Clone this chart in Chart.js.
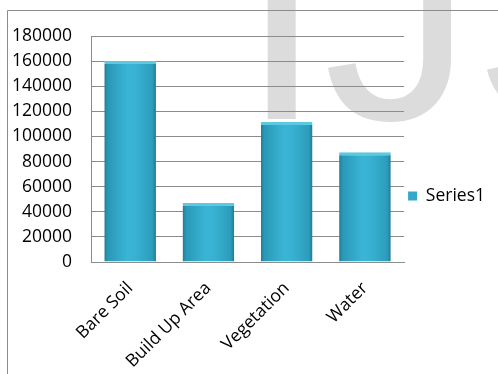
<!DOCTYPE html>
<html>
<head>
<meta charset="utf-8">
<script src="https://cdn.jsdelivr.net/npm/chart.js@4/dist/chart.umd.min.js"></script>
<style>
  html, body { margin: 0; padding: 0; background: #ffffff; }
  #wrap { position: relative; width: 498px; height: 374px; }
</style>
</head>
<body>
<div id="wrap"><canvas id="c" width="498" height="374"></canvas></div>
<script>
const categories = ['Bare Soil', 'Build Up Area', 'Vegetation', 'Water'];
const series1 = [160000, 47000, 111500, 87500];
const seriesName = 'Series1';
const yMin = 0;
const yMax = 180000;
const yStep = 20000;

const FONT = '"Open Sans", "Liberation Sans", sans-serif';

function barFill(ctx) {
  const chart = ctx.chart;
  const xs = chart.scales && chart.scales.x;
  if (!xs || ctx.dataIndex === undefined || !isFinite(xs.width) || xs.width <= 0) return '#35aacb';
  const cx = xs.getPixelForValue(ctx.dataIndex);
  const w = (xs.width / categories.length) * 0.66;
  const g = chart.ctx.createLinearGradient(cx - w / 2, 0, cx + w / 2, 0);
  g.addColorStop(0, '#1f7d98');
  g.addColorStop(0.07, '#2b98b7');
  g.addColorStop(0.45, '#3ab5d5');
  g.addColorStop(0.6, '#38b2d2');
  g.addColorStop(0.93, '#2d9cbb');
  g.addColorStop(1, '#1f7a94');
  return g;
}

const frame = {
  id: 'frame',
  afterDraw(chart) {
    const c = chart.ctx;
    c.save();
    c.strokeStyle = '#8c8c8c';
    c.lineWidth = 1;
    c.beginPath();
    c.moveTo(7.5, 374);
    c.lineTo(7.5, 10.5);
    c.lineTo(498, 10.5);
    c.stroke();
    // faint background watermark, painted behind everything already drawn
    c.globalCompositeOperation = 'destination-over';
    c.font = '300px "Liberation Sans", sans-serif';
    c.textBaseline = 'alphabetic';
    c.textAlign = 'left';
    c.fillStyle = '#dcdcdc';
    c.fillText('IJS', 240, 119);
    c.restore();
  }
};

new Chart(document.getElementById('c'), {
  type: 'bar',
  data: {
    labels: categories,
    datasets: [{
      label: seriesName,
      data: series1,
      backgroundColor: barFill,
      borderColor: '#5cc9e3',
      borderWidth: { top: 3, left: 0, right: 0, bottom: 0 },
      borderSkipped: false,
      barPercentage: 0.66,
      categoryPercentage: 1.0
    }]
  },
  options: {
    responsive: false,
    animation: false,
    devicePixelRatio: 1,
    layout: { padding: { left: 7, top: 18, right: 3, bottom: 0 } },
    plugins: {
      title: {
        display: true,
        text: ' ',
        font: { size: 10, lineHeight: 1 },
        padding: { top: 8, bottom: 0 }
      },
      tooltip: { enabled: false },
      legend: {
        display: true,
        position: 'right',
        labels: {
          boxWidth: 9,
          boxHeight: 9,
          padding: 4,
          color: '#000000',
          font: { family: FONT, size: 17.5 },
          generateLabels(chart) {
            const items = Chart.defaults.plugins.legend.labels.generateLabels(chart);
            items.forEach(it => { it.fillStyle = '#33a8c8'; it.strokeStyle = '#1f7d98'; it.lineWidth = 0; });
            return items;
          }
        }
      }
    },
    scales: {
      x: {
        grid: { display: false, drawTicks: false },
        border: { display: true, color: '#8c8c8c' },
        ticks: {
          color: '#000000',
          font: { family: FONT, size: 17.5 },
          minRotation: 45,
          maxRotation: 45,
          padding: 16
        },
        afterFit(scale) { scale.height = 374 - 262; }
      },
      y: {
        min: yMin,
        max: yMax,
        grid: { color: '#8c8c8c', drawTicks: false, lineWidth: 1 },
        border: { display: true, color: '#8c8c8c' },
        ticks: {
          stepSize: yStep,
          color: '#000000',
          font: { family: FONT, size: 17.5 },
          padding: 19,
          callback: v => String(v)
        },
        afterFit(scale) { scale.width = 84; }
      }
    }
  },
  plugins: [frame]
});
</script>
</body>
</html>
